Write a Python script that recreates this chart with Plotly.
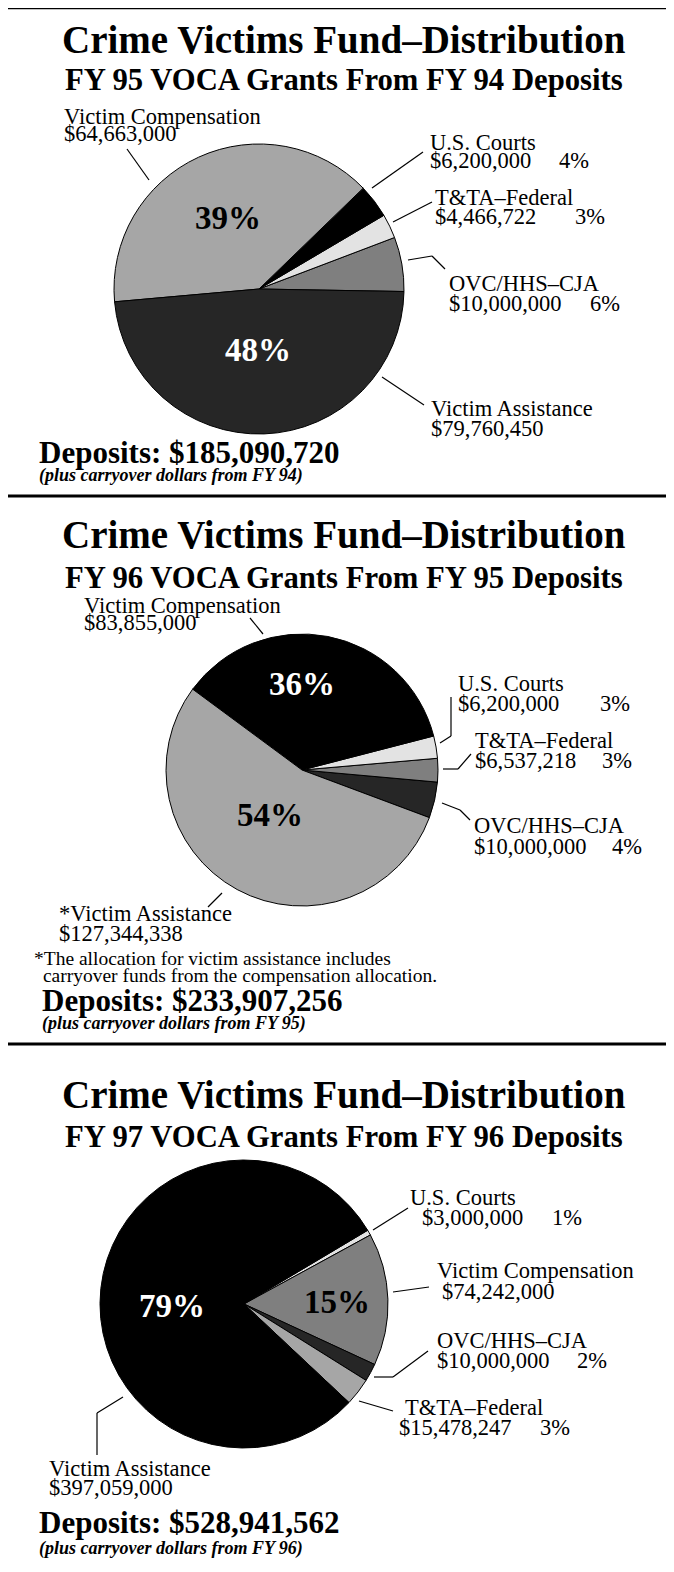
import plotly.graph_objects as go

W, H = 674, 1572
OFF = 8  # page body margin of the exported html
SERIF = 'Liberation Serif'

# FY 95 VOCA grants (from FY 94 deposits), counterclockwise from 3 o'clock
fy95_labels = ['OVC/HHS–CJA', 'T&TA–Federal', 'U.S. Courts', 'Victim Compensation', 'Victim Assistance']
fy95_values = [10000000, 4466722, 6200000, 64663000, 79760450]
fy95_colors = ['#7f7f7f', '#e3e3e3', '#000000', '#a6a6a6', '#262626']

# FY 96 VOCA grants (from FY 95 deposits)
fy96_labels = ['OVC/HHS–CJA', 'T&TA–Federal', 'U.S. Courts', 'Victim Compensation', '*Victim Assistance']
fy96_values = [10000000, 6537218, 6200000, 83855000, 127344338]
fy96_colors = ['#262626', '#7f7f7f', '#e3e3e3', '#000000', '#a6a6a6']

# FY 97 VOCA grants (from FY 96 deposits), clockwise
fy97_labels = ['U.S. Courts', 'Victim Compensation', 'OVC/HHS–CJA', 'T&TA–Federal', 'Victim Assistance']
fy97_values = [3000000, 74242000, 10000000, 15478247, 397059000]
fy97_colors = ['#e3e3e3', '#7f7f7f', '#262626', '#a6a6a6', '#000000']

grant_years = ['FY 95', 'FY 96', 'FY 97']
deposit_years = ['FY 94', 'FY 95', 'FY 96']
deposits = [185090720, 233907256, 528941562]

footnote = ['*The allocation for victim assistance includes',
            ' carryover funds from the compensation allocation.']


def X(p):
    return (p - OFF) / W


def Y(p):
    return 1 - (p - OFF) / H


# layout of each panel (pixel positions in the page)
# start: angle (deg, ccw from 3 o'clock) where the first slice begins
# callouts: slice index -> (name xy, amount xy, pct x or None, leader points)
panels = [
    dict(data=(fy95_labels, fy95_values, fy95_colors),
         cx=259, cy=289, r=145, start=-1, direction='counterclockwise',
         title_y=40, sub_y=80, dep_x=37, dep_y=452, carry_y=475,
         inside={3: ((228, 218), 'black'), 4: ((258, 350), 'white')},
         callouts={
             3: ((62, 116), (62, 134), None, [(127, 149), (149, 180)]),
             2: ((428, 142), (428, 161), 557, [(423, 152), (372, 188)]),
             1: ((433, 197), (433, 217), 573, [(432, 202), (393, 222)]),
             0: ((447, 284), (447, 303), 588, [(408, 260), (432, 256), (445, 269)]),
             4: ((429, 408), (429, 428), None, [(382, 377), (424, 405)]),
         }),
    dict(data=(fy96_labels, fy96_values, fy96_colors),
         cx=302, cy=770, r=136, start=-20.5, direction='counterclockwise',
         title_y=534, sub_y=578, dep_x=40, dep_y=1000, carry_y=1023,
         inside={3: ((302, 684), 'white'), 4: ((270, 815), 'black')},
         callouts={
             3: ((82, 605), (82, 623), None, [(250, 618), (263, 634)]),
             2: ((456, 683), (456, 703), 598, [(440, 743), (451, 736), (451, 697)]),
             1: ((473, 740), (473, 760), 600, [(443, 769), (458, 769), (471, 754)]),
             0: ((472, 826), (472, 846), 610, [(442, 803), (460, 810), (470, 820)]),
             4: ((57, 913), (57, 934), None, [(222, 893), (208, 907)]),
         }),
    dict(data=(fy97_labels, fy97_values, fy97_colors),
         cx=244, cy=1304, r=144, start=30.8, direction='clockwise',
         title_y=1094, sub_y=1137, dep_x=37, dep_y=1522, carry_y=1548,
         inside={4: ((172, 1306), 'white'), 1: ((337, 1302), 'black')},
         callouts={
             0: ((408, 1197), (420, 1217), 550, [(408, 1208), (373, 1230)]),
             1: ((435, 1270), (440, 1291), None, [(429, 1287), (393, 1292)]),
             2: ((435, 1340), (435, 1360), 575, [(374, 1377), (393, 1377), (428, 1351)]),
             3: ((403, 1407), (397, 1427), 538, [(359, 1401), (393, 1411)]),
             4: ((47, 1468), (47, 1487), None, [(123, 1397), (97, 1413), (97, 1455)]),
         }),
]

fig = go.Figure()
annotations = []
shapes = []


def add_text(text, x, y, size, color='black', xanchor='left', bold=False, italic=False):
    annotations.append(dict(
        text=text, x=X(x), y=Y(y), xref='paper', yref='paper',
        xanchor=xanchor, yanchor='middle', showarrow=False,
        font=dict(family=SERIF, size=size, color=color,
                  weight='bold' if bold else 'normal',
                  style='italic' if italic else 'normal'),
    ))


def add_line(points, width=1.2):
    for (x0, y0), (x1, y1) in zip(points[:-1], points[1:]):
        shapes.append(dict(type='line', xref='paper', yref='paper',
                           x0=X(x0), y0=Y(y0), x1=X(x1), y1=Y(y1),
                           line=dict(color='black', width=width)))


for i, p in enumerate(panels):
    labels, values, colors = p['data']
    total = sum(values)
    cx, cy, r = p['cx'], p['cy'], p['r']

    # plotly measures rotation clockwise from 12 o'clock; for counterclockwise
    # pies it marks the far edge of the first slice
    if p['direction'] == 'counterclockwise':
        rotation = 90 - p['start'] - values[0] / total * 360
    else:
        rotation = 90 - p['start']

    fig.add_trace(go.Pie(
        labels=labels,
        values=values,
        marker=dict(colors=colors, line=dict(color='black', width=1)),
        sort=False,
        direction=p['direction'],
        rotation=rotation,
        textinfo='none',
        hovertemplate='%{label}<br>$%{value:,}<extra></extra>',
        domain=dict(x=[X(cx - r), X(cx + r)], y=[Y(cy + r), Y(cy - r)]),
    ))

    add_text('Crime Victims Fund–Distribution', 344, p['title_y'], 39,
             xanchor='center', bold=True)
    add_text(f'{grant_years[i]} VOCA Grants From {deposit_years[i]} Deposits',
             344, p['sub_y'], 30.7, xanchor='center', bold=True)

    for idx, ((ix, iy), col) in p['inside'].items():
        add_text(f'{round(values[idx] / total * 100)}%', ix, iy, 33,
                 color=col, xanchor='center', bold=True)

    for idx, (name_xy, amt_xy, pct_x, leader) in p['callouts'].items():
        add_text(labels[idx].replace('&', '&amp;'), name_xy[0], name_xy[1], 22.5)
        add_text(f'${values[idx]:,}', amt_xy[0], amt_xy[1], 22.5)
        if pct_x is not None:
            add_text(f'{round(values[idx] / total * 100)}%', pct_x, amt_xy[1], 22.5)
        add_line(leader)

    add_text(f'Deposits: ${deposits[i]:,}', p['dep_x'], p['dep_y'], 31, bold=True)
    add_text(f'(plus carryover dollars from {deposit_years[i]})', p['dep_x'], p['carry_y'], 18,
             bold=True, italic=True)

# footnote for the FY 96 panel
add_text(footnote[0], 32, 958, 19.5)
add_text(footnote[1], 36, 976, 19.5)

# panel frame and dividers
add_line([(5, 1580), (5, 8), (671, 8), (671, 1580)], width=2.5)
for yd in [496, 1044]:
    add_line([(5, yd), (671, yd)], width=3)

fig.update_layout(
    width=W,
    height=H,
    margin=dict(l=0, r=0, t=0, b=0),
    paper_bgcolor='white',
    plot_bgcolor='white',
    showlegend=False,
    annotations=annotations,
    shapes=shapes,
)

fig.write_html("out.html")
